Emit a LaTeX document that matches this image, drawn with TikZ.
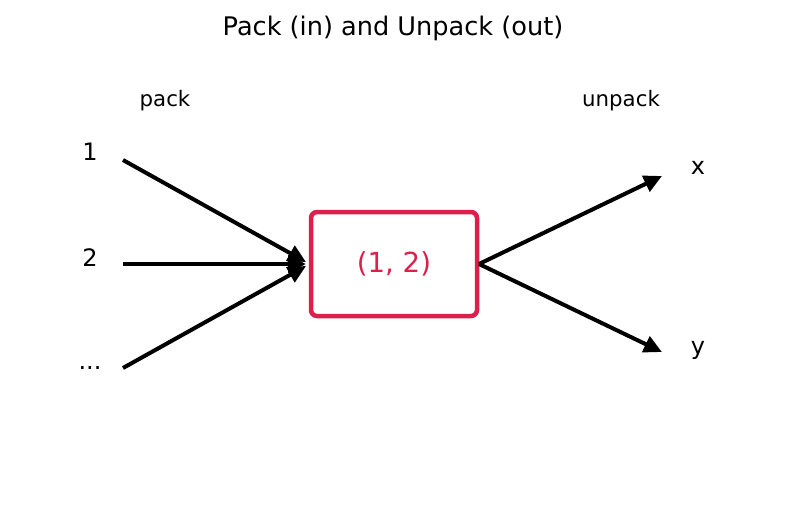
\documentclass[tikz,border=0pt]{standalone}
\usepackage{fontspec}
\setmainfont{DejaVu Sans}
\usetikzlibrary{arrows.meta}
\definecolor{boxred}{HTML}{DC1F4B}
\tikzset{
  conn/.style={line width=4pt, -{Triangle[length=18pt,width=17pt]}},
  lbl/.style={font=\fontsize{24}{28}\selectfont, inner sep=0pt},
  side/.style={font=\fontsize{21.3}{25}\selectfont, inner sep=0pt},
  packbox/.style={draw=boxred, line width=4.5pt, rounded corners=6pt, minimum width=166pt, minimum height=104pt, text=boxred, font=\fontsize{27.6}{31}\selectfont}
}
\begin{document}
\begin{tikzpicture}[x=1pt,y=-1pt]
\useasboundingbox (0,0) rectangle (787,512);
\node[font=\fontsize{25.6}{30}\selectfont, inner sep=0pt] (title) at (393,28) {Pack (in) and Unpack (out)};
\node[side] (pk) at (165,101) {pack};
\node[side] (upk) at (621,101) {unpack};
\node[lbl] (l1) at (90,152) {1};
\node[lbl] (l2) at (90,258) {2};
\node[lbl] (l3) at (90,368) {...};
\node[lbl] (lx) at (698,168) {x};
\node[lbl] (ly) at (698,350) {y};
\node[packbox] (box) at (394,264) {(1, 2)};
\coordinate (s1) at (123,160);
\coordinate (s2) at (123,264);
\coordinate (s3) at (123,368);
\coordinate (t1) at (306,262);
\coordinate (t2) at (306,264);
\coordinate (t3) at (306,266);
\coordinate (r0) at (479,264);
\coordinate (e1) at (662,176);
\coordinate (e2) at (662,352);
\draw[conn] (s1) -- (t1);
\draw[conn] (s2) -- (t2);
\draw[conn] (s3) -- (t3);
\draw[conn] (r0) -- (e1);
\draw[conn] (r0) -- (e2);
\end{tikzpicture}
\end{document}
